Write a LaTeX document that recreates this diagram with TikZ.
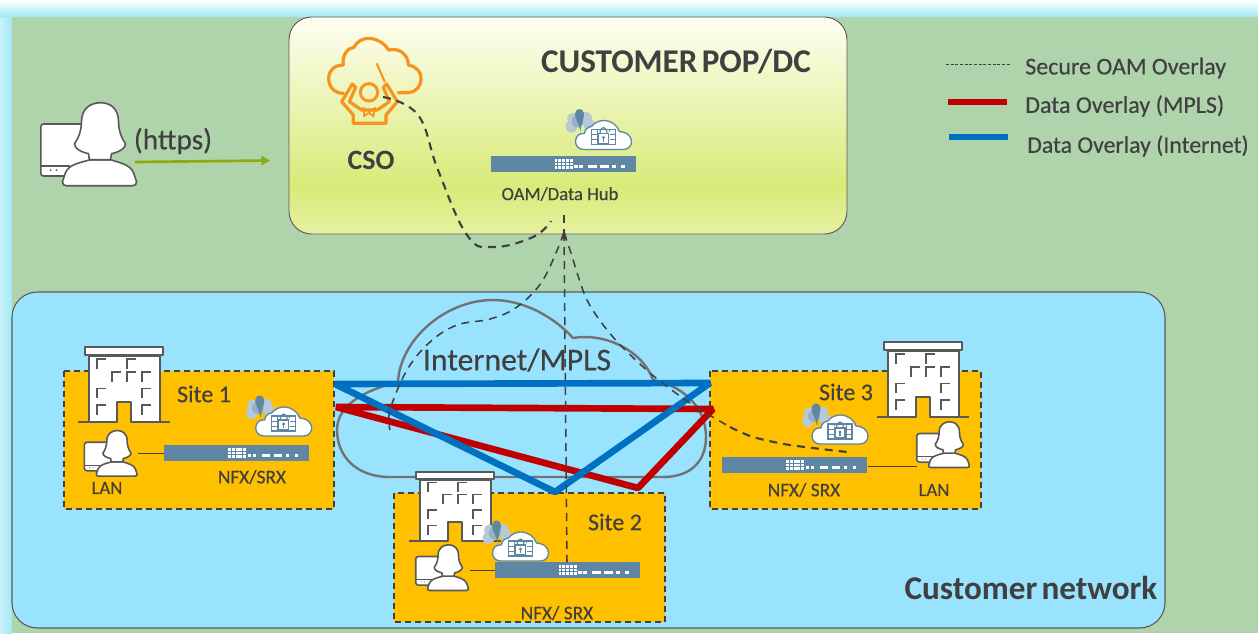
\documentclass[tikz,border=0pt]{standalone}
\usepackage{fontspec}
\setmainfont{Carlito}
\newfontfamily\medf{Carlito}[FakeBold=0.35]
\usetikzlibrary{arrows.meta}
\definecolor{txt}{HTML}{404040}
\definecolor{grn}{HTML}{AFD4AC}
\definecolor{cyn}{HTML}{A0E8F5}
\definecolor{sky}{HTML}{99E3FF}
\definecolor{amb}{HTML}{FFC000}
\definecolor{steel}{HTML}{5F86A3}
\definecolor{mpls}{HTML}{C00000}
\definecolor{inet}{HTML}{0070C0}
\definecolor{org}{HTML}{F7931E}
\definecolor{olive}{HTML}{8CAB0E}
\definecolor{iconln}{HTML}{595959}
\definecolor{popa}{HTML}{E6F1A2}
\definecolor{popb}{HTML}{D9EA78}
\definecolor{popc}{HTML}{FEFEF2}
\pgfdeclareverticalshading{popshade}{100bp}{color(0bp)=(popa); color(25bp)=(popa); color(36bp)=(popb); color(75bp)=(popc); color(100bp)=(popc)}
\tikzset{
  x=0.75pt,y=-0.75pt,
  lbl/.style={inner sep=0pt,text=txt,font=\medf\fontsize{#1}{#1}\selectfont},
  blbl/.style={inner sep=0pt,text=txt,font=\fontsize{#1}{#1}\selectfont\bfseries},
  oam/.style={draw=txt,line width=1.6pt,dash pattern=on 6pt off 4.5pt},
  oamthin/.style={draw=txt,line width=1.15pt,dash pattern=on 6pt off 4.5pt},
  sitebox/.style={fill=amb,draw=txt,line width=1.1pt,dash pattern=on 4.5pt off 3pt},
  dataline/.style={line width=5pt,line join=bevel},
  icon/.style={draw=iconln,fill=white,line width=1.2pt,line join=round},
  building/.pic={
    \draw[iconln,line width=1.5pt] (-46,0) -- (-7,0) (7,0) -- (46,0);
    \draw[icon,line width=1.5pt] (-35,0) -- (-35,-66) -- (36,-66) -- (36,0) -- (7,0) -- (7,-20) -- (-7,-20) -- (-7,0) -- cycle;
    \draw[icon,line width=1.5pt] (-39,-74.5) rectangle (39,-67);
    \foreach \wx/\wy in {-26.7/-63,3.3/-63,-11.7/-50,3.3/-50,18.3/-50,-26.7/-33.3,18.3/-33.3,-26.7/-16.7,18.3/-16.7}
      \draw[iconln,line width=1.3pt] (\wx,\wy+10) -- (\wx,\wy) -- (\wx+9,\wy);
  },
  usericon/.pic={
    \draw[icon,rounded corners=2pt] (-58.7,-62.7) rectangle (-10,-10.7);
    \draw[iconln,line width=.8pt] (-58.7,-20.7) -- (-30,-20.7);
    \fill[iconln] (-49,-16.5) circle (1) (-43,-16.5) circle (1);
    \draw[icon] (-9,-27) .. controls (-20,-24) and (-31,-22) .. (-34,-14) -- (-37,-5) .. controls (-37,-2) and (-36,-1) .. (-33,-1) -- (33,-1) .. controls (36,-1) and (37,-2) .. (37,-5) -- (34,-14) .. controls (31,-22) and (20,-24) .. (11,-27) -- cycle;
    \draw[icon] (-10,-27) -- (-11,-33) .. controls (-19,-35) and (-25,-38) .. (-25,-43) .. controls (-20,-50) and (-18,-58) .. (-18,-65) .. controls (-18,-78) and (-9,-84) .. (1,-84) .. controls (11,-84) and (19,-78) .. (19,-65) .. controls (19,-58) and (21,-50) .. (26,-43) .. controls (26,-38) and (20,-35) .. (12,-33) -- (11,-27) -- cycle;
  },
  router/.pic={
    \fill[steel] (-72.5,-8) rectangle (72.5,8);
    \foreach \rx in {0,1,2,3,4} \foreach \ry in {0,1,2}
      \fill[white] (-8.5+\rx*3.8,-5+\ry*3.5) rectangle ++(2.9,2.6);
    \foreach \rx/\rw in {11/3.5,16/3.5,25/8.5,37/8.5,49/3.5,58/3.5}
      \fill[white] (\rx,0.5) rectangle ++(\rw,3);
  },
  fwcloud/.pic={
    \fill[steel!45!white] (-31,-17) circle (5.5) (-32,-9) circle (6) (-18,-17) circle (6.5) (-14,-10) circle (6);
    \fill[steel!65!white] (-26,-14) circle (6);
    \fill[steel] (-23,-4) .. controls (-25,-14) and (-29,-18) .. (-28.5,-22) .. controls (-28,-28) and (-20,-28) .. (-19.5,-22) .. controls (-19,-18) and (-22,-14) .. (-23,-4) -- cycle;
    \draw[steel,fill=white,line width=1pt,line join=round] (-20,14) .. controls (-25,14) and (-28,10) .. (-28,6) .. controls (-28,1) and (-24,-3) .. (-19,-2) .. controls (-19,-6) and (-15,-9) .. (-12,-9) .. controls (-9,-13) and (-4,-15) .. (0,-15) .. controls (8,-15) and (14,-10) .. (16,-4) .. controls (22,-4) and (28,0) .. (28,6) .. controls (28,10) and (25,14) .. (20,14) -- cycle;
    \draw[steel,line width=.9pt] (-12,-6) rectangle (12,9);
    \draw[steel,line width=.6pt] (-12,-1) -- (12,-1) (-12,4) -- (12,4) (-6,-6) -- (-6,9) (6,-6) -- (6,9);
    \fill[white] (-6,-4) rectangle (6,8);
    \draw[steel,line width=.9pt] (-5,-2) rectangle (5,8);
    \draw[steel,line width=.9pt] (-3.5,-2) .. controls (-3.5,-10) and (3.5,-10) .. (3.5,-2);
    \fill[steel] (0,2) circle (1.7);
    \draw[steel,line width=.8pt] (0,2) -- (0,6);
  }
}
\begin{document}
\begin{tikzpicture}
\useasboundingbox (0,0) rectangle (1258,633);
% background
\fill[white] (0,0) rectangle (1258,633);
\shade[left color=cyn!55!white,right color=cyn] (0,8) rectangle (12,633);
\shade[top color=white,bottom color=cyn] (0,0) rectangle (1258,17);
\fill[grn] (12,17) rectangle (1258,633);
% panels
\shade[shading=popshade,rounded corners=17pt] (289,17) rectangle (847,234);
\draw[iconln,line width=.7pt,rounded corners=17pt] (289,17) rectangle (847,234);
\draw[fill=sky,draw=iconln,line width=.8pt,rounded corners=19pt] (12,292) rectangle (1165,628);
% internet cloud
\draw[draw=iconln!85!white,line width=1.8pt,line join=round] (390,477)
  .. controls (355,477) and (337,455) .. (337,430)
  .. controls (337,405) and (365,390) .. (398,382)
  .. controls (400,340) and (445,300) .. (493,300)
  .. controls (525,300) and (555,318) .. (573,338)
  .. controls (610,332) and (645,355) .. (653,380)
  .. controls (680,385) and (706,405) .. (706,437)
  .. controls (706,462) and (690,477) .. (663,477) -- cycle;
% sites
\draw[sitebox] (64,371) rectangle (334,509);
\draw[sitebox] (394,493) rectangle (665,622);
\draw[sitebox] (710,371) rectangle (981,509);
% buildings
\pic (b1) at (124,421.7) {building};
\pic[yscale=0.93] (b2) at (454.5,541) {building};
\pic (b3) at (923,416.7) {building};
% users
\pic (umain) at (99.5,186.7) {usericon};
\pic[scale=.55] (u1) at (116.7,476.7) {usericon};
\pic[scale=.55] (u2) at (448,591) {usericon};
\pic[scale=.55] (u3) at (949,468) {usericon};
% routers
\pic (rh) at (563,164) {router};
\pic (r1) at (236.5,453) {router};
\pic (r2) at (567,570) {router};
\pic (r3) at (794.5,465) {router};
% LAN ties
\coordinate (l1a) at (138,453); \coordinate (l1b) at (164,453);
\coordinate (l2a) at (470,570); \coordinate (l2b) at (495,570);
\coordinate (l3a) at (868,466); \coordinate (l3b) at (917,466);
\draw[txt,line width=.7pt] (l1a)--(l1b) (l2a)--(l2b) (l3a)--(l3b);
% firewall clouds
\pic (fh) at (603.5,135.5) {fwcloud};
\pic (f1) at (283.7,422) {fwcloud};
\pic (f2) at (520.5,547) {fwcloud};
\pic (f3) at (840,430) {fwcloud};
% CSO icon
\begin{scope}[shift={(280,10)},x=0.25pt,y=-0.25pt]
\draw[org,line width=2.4pt,line join=round,line cap=round] (190,250)
  .. controls (165,250) and (146,232) .. (146,205)
  .. controls (146,180) and (165,165) .. (190,165)
  .. controls (185,135) and (205,112) .. (222,112)
  .. controls (230,95) and (248,85) .. (265,85)
  .. controls (290,85) and (315,100) .. (325,120)
  .. controls (360,112) and (385,135) .. (385,165)
  .. controls (410,170) and (423,185) .. (423,205)
  .. controls (423,230) and (405,248) .. (385,248) -- (355,248);
\draw[org,line width=2.4pt,line join=round] (217,222) -- (185,275) -- (220,315) -- (220,340) -- (318,340) -- (318,315) -- (352,275) -- (320,222) -- (310,232) -- (328,275) -- (292,300) -- (245,300) -- (208,275) -- (227,232) -- cycle;
\draw[org,line width=2.2pt] (267,247) circle (26);
\draw[org,line width=1.4pt] (250,295) -- (267,303) -- (285,295) -- (280,318) -- (267,308) -- (253,318) -- cycle;
\draw[org,line width=1.5pt] (290,160) -- (315,217);
\end{scope}
% data overlays
\coordinate (ia) at (335,384); \coordinate (ib) at (710,383); \coordinate (ic) at (555,492);
\coordinate (ma) at (336,407); \coordinate (mb) at (713,409); \coordinate (mc) at (638,488);
\draw[dataline,mpls] (ma) -- (mb) -- (mc) -- cycle;
\draw[dataline,inet] (ia) -- (ib) -- (ic) -- cycle;
% OAM overlays
\coordinate (apex) at (564,233);
\coordinate (hubdrop) at (564,215);
\coordinate (csoend) at (383,97);
\coordinate (hubleft) at (551,221);
\coordinate (s1end) at (390,430);
\coordinate (s2end) at (567,562);
\coordinate (s3end) at (847,452);
\coordinate (s3mid) at (730,427);
\draw[oam] plot[smooth,tension=.7] coordinates {(csoend) (418,115) (438,170) (467,235) (493,247) (533,237) (hubleft)};
\draw[oam] (hubdrop) -- (apex);
\fill[txt] (564,229) -- (561,239) -- (567,239) -- cycle;
\draw[oamthin] plot[smooth,tension=.6] coordinates {(apex) (543,280) (517,307) (490,319) (457,325) (430,342) (407,370) (390,410) (s1end)};
\draw[oamthin] (apex) -- (s2end);
\draw[oamthin] plot[smooth,tension=.5] coordinates {(apex) (570,250) (587,300) (613,337) (650,373) (690,403) (s3mid)};
\draw[oam] plot[smooth,tension=.5] coordinates {(s3mid) (753,437) (790,445) (s3end)};
% arrow
\coordinate (hs) at (135,162); \coordinate (he) at (270,160.5);
\draw[olive,line width=2pt,-{Triangle[length=6.5pt,width=7pt]}] (hs) -- (he);
% legend
\coordinate (k1a) at (946,64); \coordinate (k1b) at (1011,64);
\coordinate (k2a) at (948,102); \coordinate (k2b) at (1007,102);
\coordinate (k3a) at (949,137); \coordinate (k3b) at (1008,137);
\draw[txt,line width=.6pt,dash pattern=on 2.2pt off 1.3pt] (k1a) -- (k1b);
\draw[mpls,line width=4.6pt] (k2a) -- (k2b);
\draw[inet,line width=4.6pt] (k3a) -- (k3b);
\node[lbl=18,anchor=west] (t1) at (1025,68) {Secure OAM Overlay};
\node[lbl=18,anchor=west] (t2) at (1025,106) {Data Overlay (MPLS)};
\node[lbl=17.8,anchor=west] (t3) at (1027,146) {Data Overlay (Internet)};
% labels
\node[blbl=24.9] (tpop) at (676,62) {CUSTOMER\kern-2.5pt{} POP/DC};
\node[blbl=21] (tcso) at (371,160) {CSO};
\node[lbl=22] (thttps) at (173,141) {(https)};
\node[lbl=14] (thub) at (560,194) {OAM/Data Hub};
\node[blbl=24.9] (tcust) at (1031,588) {Customer\kern-2.5pt{} network};
\node[lbl=23.8] (tnet) at (517,360) {Internet/MPLS};
\node[lbl=18] (ts1) at (204,394) {Site 1};
\node[lbl=18] (ts2) at (615,522) {Site 2};
\node[lbl=18] (ts3) at (846,392) {Site 3};
\node[lbl=14.5] (tn1) at (252,477) {NFX/SRX};
\node[lbl=14.5] (tn2) at (557,613) {NFX/ SRX};
\node[lbl=14.5] (tn3) at (804,490) {NFX/ SRX};
\node[lbl=14] (tl1) at (107,488) {LAN};
\node[lbl=14] (tl3) at (934,490) {LAN};
\end{tikzpicture}
\end{document}
